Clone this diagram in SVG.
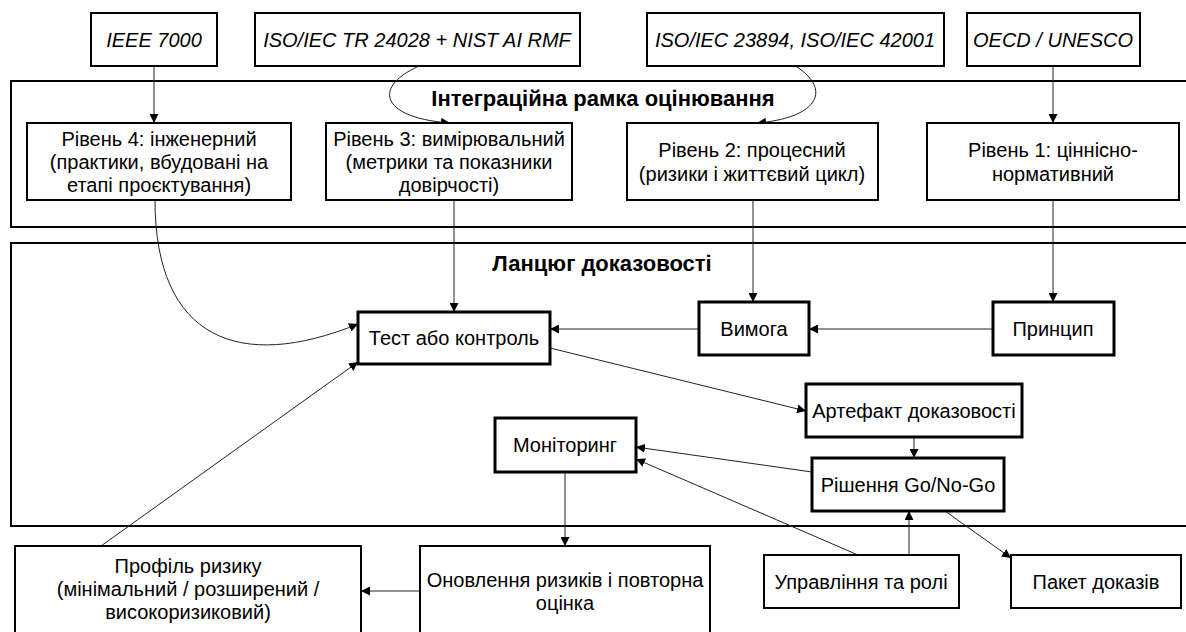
<svg xmlns="http://www.w3.org/2000/svg" width="1186" height="632" viewBox="0 0 1186 632">
<style>
text{font-family:"Liberation Sans",Arial,sans-serif;font-size:20px;fill:#000;text-anchor:middle}
.it{font-style:italic}
.ti{font-weight:bold;font-size:22px}
.b1{fill:#fff;stroke:#000;stroke-width:2}
.b2{fill:#fff;stroke:#000;stroke-width:3}
.fr{fill:none;stroke:#000;stroke-width:2}
.c{fill:none;stroke:#222;stroke-width:1;marker-end:url(#ah)}
</style>
<defs>
<marker id="ah" viewBox="0 0 10 10" refX="10" refY="5" markerWidth="9" markerHeight="9" markerUnits="userSpaceOnUse" orient="auto">
<path d="M0,0 L10,5 L0,10 z" fill="#000"/>
</marker>
</defs>
<g id="frame-integration">
<rect class="fr" x="11" y="81" width="1190" height="146"/>
<text class="ti" x="603" y="106">Інтеграційна рамка оцінювання</text>
</g>
<g id="frame-chain">
<rect class="fr" x="11" y="243" width="1190" height="283"/>
<text class="ti" x="602" y="271">Ланцюг доказовості</text>
</g>
<g id="connectors">
<path class="c" d="M154,66 L154,123"/>
<path class="c" d="M417,67 C372,88 382,118 450,123"/>
<path class="c" d="M797,67 C832,90 818,118 757,123"/>
<path class="c" d="M1053,66 L1053,123"/>
<path class="c" d="M155,200 C155,340 240,372 358,324"/>
<path class="c" d="M454,200 L454,312"/>
<path class="c" d="M753,200 L753,302"/>
<path class="c" d="M1053,200 L1053,302"/>
<path class="c" d="M699,329 L550,329"/>
<path class="c" d="M993,329 L809,329"/>
<path class="c" d="M550,348 L806,411"/>
<path class="c" d="M914,437 L914,458"/>
<path class="c" d="M812,472 L636,447"/>
<path class="c" d="M858,555 L636,459"/>
<path class="c" d="M909,555 L909,511"/>
<path class="c" d="M945,511 L1011,558"/>
<path class="c" d="M565,472 L565,546"/>
<path class="c" d="M420,591 L361,591"/>
<path class="c" d="M101,546 L358,362"/>
</g>
<g id="n-ieee"><rect class="b1" x="91" y="13" width="126" height="53"/><text class="it" x="154" y="47">IEEE 7000</text></g>
<g id="n-iso24028"><rect class="b1" x="255" y="13" width="325" height="53"/><text class="it" x="417" y="47">ISO/IEC TR 24028 + NIST AI RMF</text></g>
<g id="n-iso23894"><rect class="b1" x="647" y="13" width="297" height="53"/><text class="it" x="795" y="47">ISO/IEC 23894, ISO/IEC 42001</text></g>
<g id="n-oecd"><rect class="b1" x="967" y="13" width="173" height="53"/><text class="it" x="1053" y="47">OECD / UNESCO</text></g>
<g id="n-level4"><rect class="b1" x="27" y="123" width="264" height="77"/>
<text x="159" y="146">Рівень 4: інженерний</text><text x="159" y="169">(практики, вбудовані на</text><text x="159" y="192">етапі проєктування)</text></g>
<g id="n-level3"><rect class="b1" x="326" y="123" width="246" height="77"/>
<text x="449" y="146">Рівень 3: вимірювальний</text><text x="449" y="169">(метрики та показники</text><text x="449" y="192">довірчості)</text></g>
<g id="n-level2"><rect class="b1" x="627" y="123" width="251" height="77"/>
<text x="752" y="157">Рівень 2: процесний</text><text x="752" y="181">(ризики і життєвий цикл)</text></g>
<g id="n-level1"><rect class="b1" x="927" y="123" width="252" height="77"/>
<text x="1053" y="157">Рівень 1: ціннісно-</text><text x="1053" y="181">нормативний</text></g>
<g id="n-test"><rect class="b2" x="358" y="312" width="192" height="52"/><text x="454" y="345">Тест або контроль</text></g>
<g id="n-req"><rect class="b2" x="699" y="302" width="110" height="53"/><text x="754" y="336">Вимога</text></g>
<g id="n-principle"><rect class="b2" x="993" y="302" width="121" height="53"/><text x="1053" y="336">Принцип</text></g>
<g id="n-artifact"><rect class="b2" x="806" y="384" width="216" height="53"/><text x="914" y="418">Артефакт доказовості</text></g>
<g id="n-decision"><rect class="b2" x="812" y="458" width="192" height="53"/><text x="908" y="492">Рішення Go/No-Go</text></g>
<g id="n-monitor"><rect class="b2" x="495" y="418" width="141" height="54"/><text x="565" y="452">Моніторинг</text></g>
<g id="n-profile"><rect class="b1" x="15" y="546" width="346" height="100"/>
<text x="188" y="573">Профіль ризику</text><text x="188" y="596">(мінімальний / розширений /</text><text x="188" y="619">високоризиковий)</text></g>
<g id="n-update"><rect class="b1" x="420" y="546" width="290" height="100"/>
<text x="565" y="587">Оновлення ризиків і повторна</text><text x="565" y="610">оцінка</text></g>
<g id="n-governance"><rect class="b1" x="764" y="555" width="195" height="53"/><text x="861" y="589">Управління та ролі</text></g>
<g id="n-package"><rect class="b1" x="1011" y="555" width="170" height="53"/><text x="1096" y="589">Пакет доказів</text></g>
</svg>
